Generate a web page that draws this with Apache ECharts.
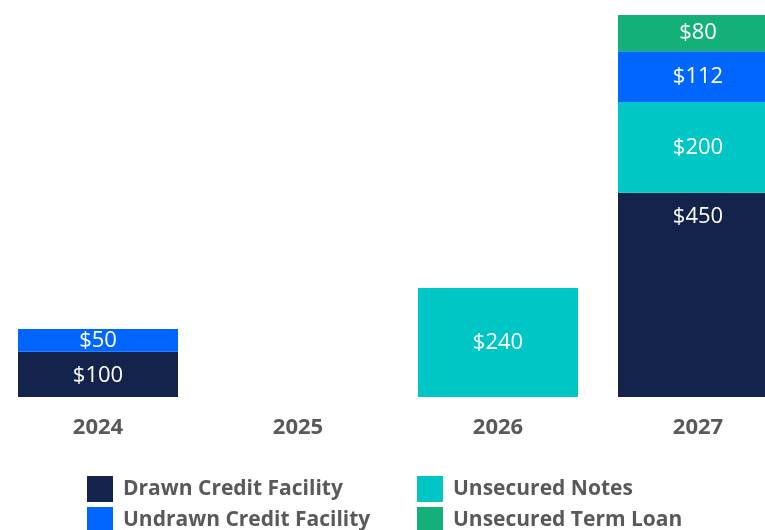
<!DOCTYPE html>
<html>
<head>
<meta charset="utf-8">
<script src="https://cdn.jsdelivr.net/npm/echarts@6/dist/echarts.min.js"></script>
<style>
  html, body { margin: 0; padding: 0; background: #fff; }
  #chart { width: 765px; height: 530px; }
</style>
</head>
<body>
<div id="chart"></div>
<script>
var years = ['2024', '2025', '2026', '2027'];
var drawnCredit = [100, '-', '-', 450];
var unsecuredNotes = ['-', '-', 240, 200];
var undrawnCredit = [50, '-', '-', 112];
var termLoan = ['-', '-', '-', 80];

function draw_debt() {
    var dom = document.getElementById('chart');
    var myChart = echarts.init(dom, null, { renderer: 'canvas' });

    var valueLabel = {
      show: true,
      position: 'inside',
      color: '#ffffff',
      fontFamily: 'Open Sans',
      fontSize: 22,
      formatter: function (p) { return '$' + p.value; }
    };

    var legendText = {
      color: '#595959',
      fontFamily: 'Open Sans',
      fontWeight: 'bold',
      fontSize: 21,
      padding: [0, 0, 0, 5]
    };

    var option = {
  animation: false,
  grid: {
    left: -2,
    width: 800,
    top: 15,
    bottom: 133,
    outerBoundsMode: 'none'
  },
  legend: [
    {
      orient: 'vertical',
      left: 87,
      top: 476,
      padding: 0,
      height: 60,
      itemWidth: 26,
      itemHeight: 26,
      itemGap: 5,
      icon: 'rect',
      textStyle: legendText,
      data: ['Drawn Credit Facility', 'Undrawn Credit Facility']
    },
    {
      orient: 'vertical',
      left: 417,
      top: 476,
      padding: 0,
      height: 60,
      itemWidth: 26,
      itemHeight: 26,
      itemGap: 5,
      icon: 'rect',
      textStyle: legendText,
      data: ['Unsecured Notes', 'Unsecured Term Loan']
    }
  ],
  xAxis: {
    type: 'category',
    data: years,
    axisLine: { show: false },
    axisTick: { show: false },
    axisLabel: {
      color: '#595959',
      fontFamily: 'Open Sans',
      fontWeight: 'bold',
      fontSize: 22,
      margin: 20
    }
  },
  yAxis: {
    type: 'value',
    min: 0,
    max: 842,
    show: false,
    splitLine: { show: false }
  },
  series: [
    {
      name: 'Drawn Credit Facility',
      type: 'bar',
      stack: 'debt',
      barWidth: 160,
      itemStyle: { color: '#13234b' },
      label: Object.assign({}, valueLabel, { position: 'insideTop', distance: 13 }),
      data: drawnCredit
    },
    {
      name: 'Unsecured Notes',
      type: 'bar',
      stack: 'debt',
      barWidth: 160,
      itemStyle: { color: '#00c6c6' },
      label: valueLabel,
      data: unsecuredNotes
    },
    {
      name: 'Undrawn Credit Facility',
      type: 'bar',
      stack: 'debt',
      barWidth: 160,
      itemStyle: { color: '#0066ff' },
      label: valueLabel,
      data: undrawnCredit
    },
    {
      name: 'Unsecured Term Loan',
      type: 'bar',
      stack: 'debt',
      barWidth: 160,
      itemStyle: { color: '#14b07a' },
      label: valueLabel,
      data: termLoan
    }
  ]
};

    myChart.setOption(option);
    window.addEventListener('resize', myChart.resize);
}

draw_debt();
</script>
</body>
</html>
